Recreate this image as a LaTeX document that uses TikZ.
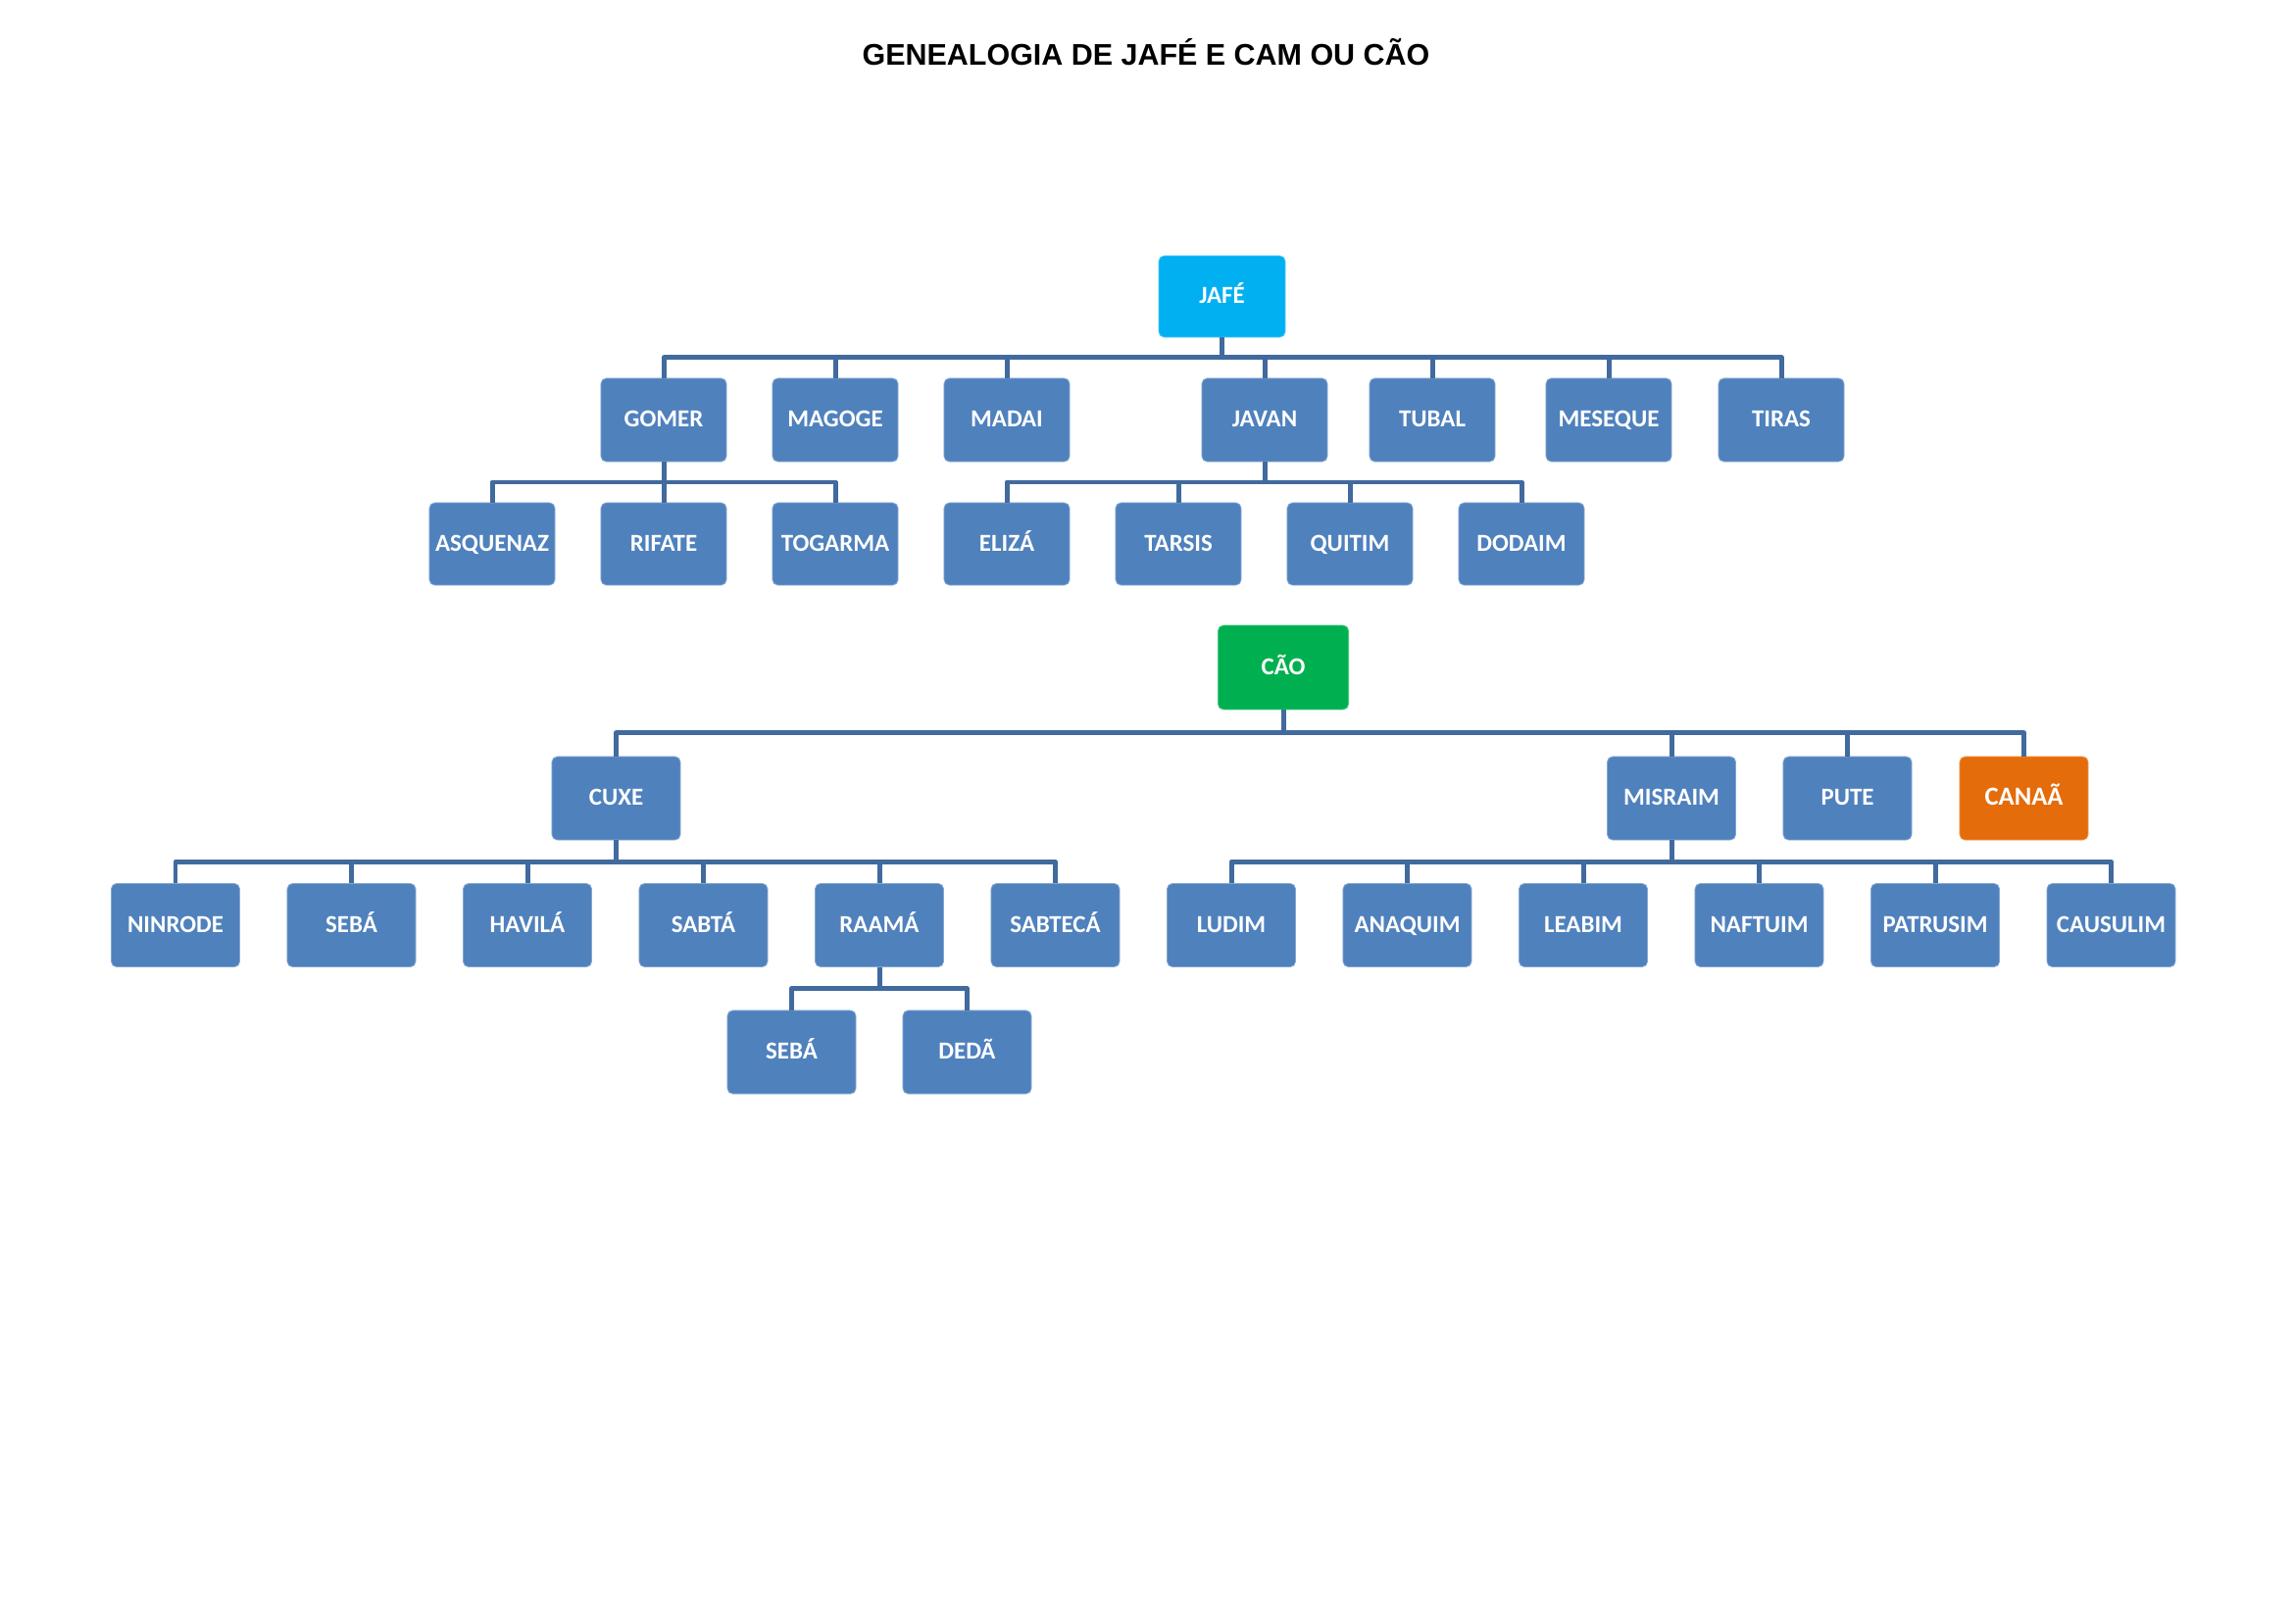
\documentclass[tikz,border=0pt]{standalone}
\usepackage{fontspec}
\setmainfont{Liberation Sans}
\newfontfamily\carlito{Carlito}
\usepackage{tikz}
\usetikzlibrary{calc}
\definecolor{azul}{HTML}{4F81BD}
\definecolor{linha}{HTML}{416A9E}
\definecolor{ciano}{HTML}{00B0F0}
\definecolor{verde}{HTML}{00B050}
\definecolor{laranja}{HTML}{E46C0A}
\tikzset{
         pessoa/.style=
          {
           draw=azul!70!white,line width=.3pt,fill=azul,rounded corners=2pt,
           text=white,font=\carlito\bfseries\fontsize{9}{9}\selectfont,
           inner sep=0,text height=5.8pt,text depth=.6pt,
           minimum width=1.626cm,minimum height=1.08cm
          },
         pessoa2/.style={pessoa,minimum width=1.664cm},
         elo/.style={draw=linha,line width=1.8pt,line join=round}
        }

\begin{document}
\begin{tikzpicture}[x=0.0127cm,y=-0.0127cm]
\useasboundingbox(0,0)rectangle(2339,1656);
\node[anchor=base,font=\bfseries\fontsize{11}{11}\selectfont](titulo)at(1169,67){GENEALOGIA DE JAFÉ E CAM OU CÃO};
%jafe
\node[pessoa,fill=ciano,draw=ciano!70!white,minimum width=1.638cm,minimum height=1.054cm](jafe)at(1246.5,302.5){JAFÉ};
\foreach \n/\t/\x in {gomer/GOMER/677,magoge/MAGOGE/852,madai/MADAI/1027,javan/JAVAN/1290,tubal/TUBAL/1461,meseque/MESEQUE/1641,tiras/TIRAS/1817}{
\node[pessoa](\n)at(\x,428.5){\t};
}
\foreach \n/\t/\x in {asquenaz/ASQUENAZ/502,rifate/RIFATE/677,togarma/TOGARMA/852,eliza/ELIZÁ/1027,tarsis/TARSIS/1202,quitim/QUITIM/1377,dodaim/DODAIM/1552}{
\node[pessoa,minimum height=1.067cm](\n)at(\x,555){\t};
}
%cao
\node[pessoa,fill=verde,draw=verde!70!white,minimum width=1.69cm,minimum height=1.09cm](cao)at(1309,681){CÃO};
\foreach \n/\t/\x in {cuxe/CUXE/628.5,misraim/MISRAIM/1705,pute/PUTE/1884.5}{
\node[pessoa2](\n)at(\x,814.5){\t};
}
\node[pessoa2,fill=laranja,draw=laranja!70!white,font=\carlito\bfseries\fontsize{9.6}{9.6}\selectfont](canaa)at(2064.5,814.5){CANAÃ};
\foreach \n/\t [count=\k from 0] in {ninrode/NINRODE,seba/SEBÁ,havila/HAVILÁ,sabta/SABTÁ,raama/RAAMÁ,sabteca/SABTECÁ,ludim/LUDIM,anaquim/ANAQUIM,leabim/LEABIM,naftuim/NAFTUIM,patrusim/PATRUSIM,causulim/CAUSULIM}{
\node[pessoa2](\n)at(179+179.5*\k,944){\t};
}
\node[pessoa2](seba2)at(807.5,1073.5){SEBÁ};
\node[pessoa2](deda)at(986.5,1073.5){DEDÃ};
%ligacoes
\foreach \p/\fs in {jafe/{gomer,magoge,madai,javan,tubal,meseque,tiras},gomer/{asquenaz,rifate,togarma},javan/{eliza,tarsis,quitim,dodaim},cao/{cuxe,misraim,pute,canaa},cuxe/{ninrode,seba,havila,sabta,raama,sabteca},misraim/{ludim,anaquim,leabim,naftuim,patrusim,causulim},raama/{seba2,deda}}{
\foreach \f in \fs{
\draw[elo](\p.south)--($(\p.south)!.5!(\p.south|-\f.north)$)-|(\f.north);
}
}
\end{tikzpicture}
\end{document}
